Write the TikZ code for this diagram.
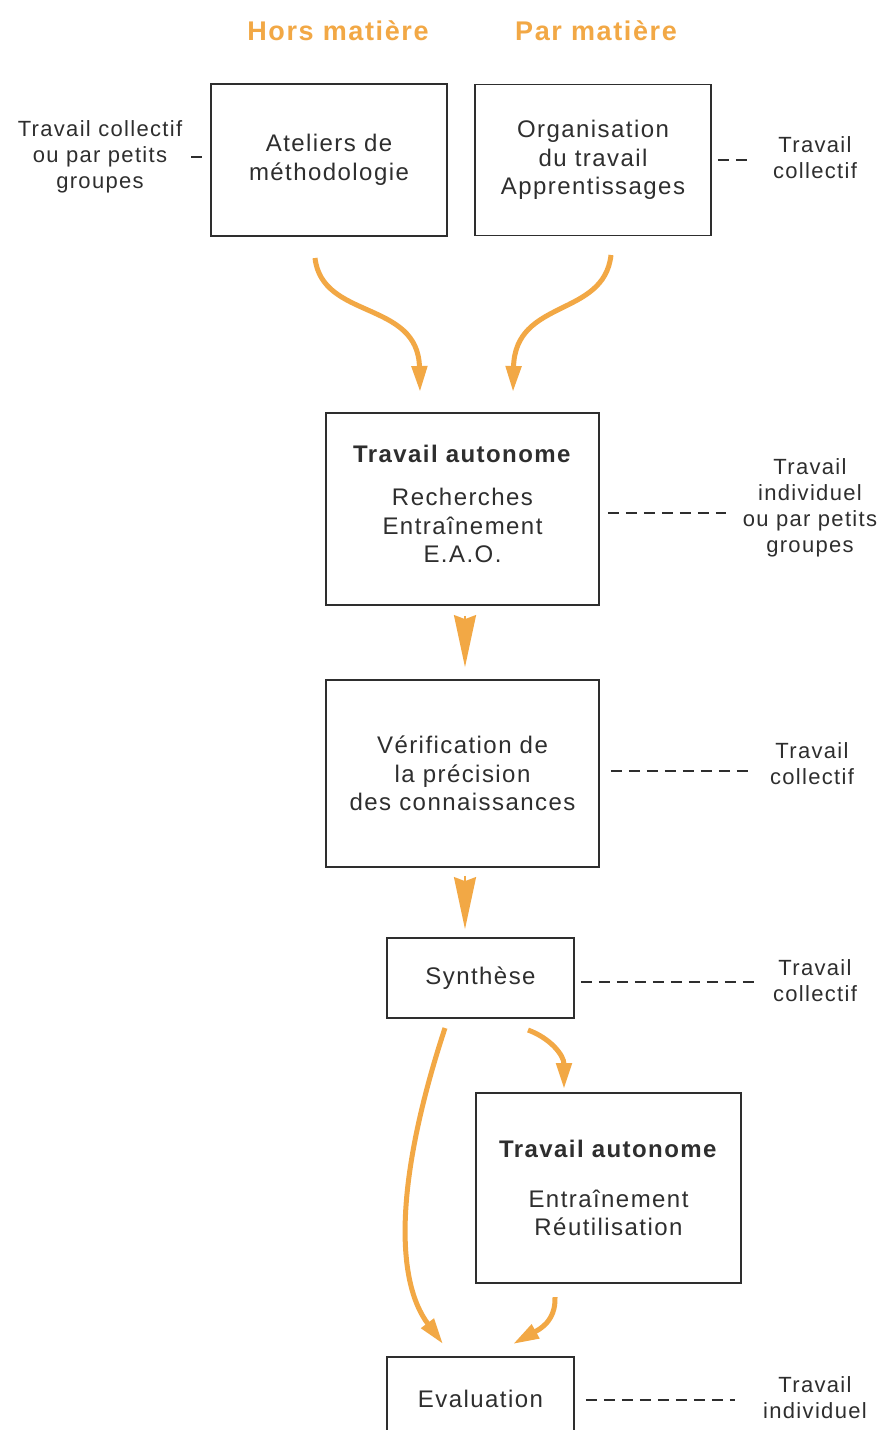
\documentclass[tikz,border=0pt]{standalone}
\usepackage{fontspec}
\setmainfont{Liberation Sans}[LetterSpace=6]
\usetikzlibrary{arrows.meta}
\definecolor{org}{HTML}{F2A845}
\definecolor{ink}{HTML}{2E2E2E}
\begin{document}
\begin{tikzpicture}[x=1pt,y=-1pt,
  box/.style={draw=ink, line width=1.8pt, text=ink, align=center, inner sep=0pt,
              font=\fontsize{24}{28.5}\selectfont},
  lbl/.style={text=ink, align=center, inner sep=0pt, font=\fontsize{22}{26}\selectfont},
  dsh/.style={draw=ink, line width=1.6pt, dash pattern=on 11pt off 7pt},
  oarr/.style={draw=org, line width=5pt, -{Triangle[length=26pt,width=15pt]}},
  warr/.style={draw=org, line width=2pt, -{Stealth[length=52pt,width=22pt,inset=4pt]}},
  ttl/.style={text=org, inner sep=0pt, font=\fontsize{27}{30}\selectfont\bfseries}]
\useasboundingbox[fill=white] (0,0) rectangle (893,1430);

% titles
\node[ttl] (t1) at (338,31) {Hors matière};
\node[ttl] (t2) at (596,31) {Par matière};

% boxes
\node[box, minimum width=236pt, minimum height=152pt] (b1) at (329,160)
  {Ateliers de\\méthodologie};
\node[box, minimum width=236pt, minimum height=151pt] (b2) at (593,160)
  {Organisation\\du travail\\Apprentissages};
\node[box, minimum width=273pt, minimum height=192pt] (b3) at (462.5,509)
  {\textbf{Travail autonome}\\[15pt]Recherches\\Entraînement\\E.A.O.\\[-18pt]};
\node[box, minimum width=273pt, minimum height=187pt] (b4) at (462.5,773.5)
  {Vérification de\\la précision\\des connaissances};
\node[box, minimum width=187pt, minimum height=80pt] (b5) at (480.5,978)
  {Synthèse};
\node[box, minimum width=265pt, minimum height=190pt] (b6) at (608.5,1188)
  {\textbf{Travail autonome}\\[21pt]Entraînement\\Réutilisation};
\node[box, minimum width=187pt, minimum height=83pt] (b7) at (480.5,1398.5)
  {Evaluation};

% side labels
\node[lbl] (l1) at (100,157) {Travail collectif\\ou par petits\\groupes};
\node[lbl] (r2) at (815,158) {Travail\\collectif};
\node[lbl] (r3) at (810,508) {Travail\\individuel\\ou par petits\\groupes};
\node[lbl] (r4) at (812,764) {Travail\\collectif};
\node[lbl] (r5) at (815,981) {Travail\\collectif};
\node[lbl] (r7) at (815,1398) {Travail\\individuel};

% dashed links
\draw[dsh, shorten <=9pt, shorten >=6pt] (l1.east) -- (l1.east -| b1.west);
\draw[dsh, shorten <=6pt, shorten >=22pt] (b2.east) -- (b2.east -| r2.west);
\draw[dsh, shorten <=8pt, shorten >=17pt] ([yshift=-4pt]b3.east) -- ([yshift=-4pt]b3.east -| r3.west);
\draw[dsh, shorten <=11pt, shorten >=18pt] ([yshift=2.5pt]b4.east) -- ([yshift=2.5pt]b4.east -| r4.west);
\draw[dsh, shorten <=6pt, shorten >=15pt] ([yshift=-4pt]b5.east) -- ([yshift=-4pt]b5.east -| r5.west);
\draw[dsh, shorten <=11pt, shorten >=28pt] ([yshift=-1.5pt]b7.east) -- ([yshift=-1.5pt]b7.east -| r7.west);

% curved arrows top
\coordinate (a1s) at (315,258);
\coordinate (a1e) at (420,392);
\coordinate (a2s) at (611,255);
\coordinate (a2e) at (513,392);
\draw[oarr] (a1s) .. controls (322,320) and (418,300) .. (a1e);
\draw[oarr] (a2s) .. controls (604,318) and (515,298) .. (a2e);

% straight wedges
\draw[warr, shorten <=10pt, shorten >=12pt] ([xshift=2.5pt]b3.south) -- ([xshift=2.5pt]b4.north);
\draw[warr, shorten <=8pt, shorten >=8pt] ([xshift=2.5pt]b4.south) -- ([xshift=2.5pt]b4.south |- b5.north);

% bottom arrows
\coordinate (a5s) at (528,1030);
\coordinate (a5e) at (564,1089);
\coordinate (a6s) at (445,1028);
\coordinate (a6e) at (443,1344);
\coordinate (a7s) at (555,1297);
\coordinate (a7e) at (513,1344);
\draw[oarr] (a5s) .. controls (550,1038) and (564,1055) .. (a5e);
\draw[oarr] (a6s) .. controls (395,1180) and (395,1280) .. (a6e);
\draw[oarr] (a7s) .. controls (556,1322) and (538,1330) .. (a7e);
\end{tikzpicture}
\end{document}
